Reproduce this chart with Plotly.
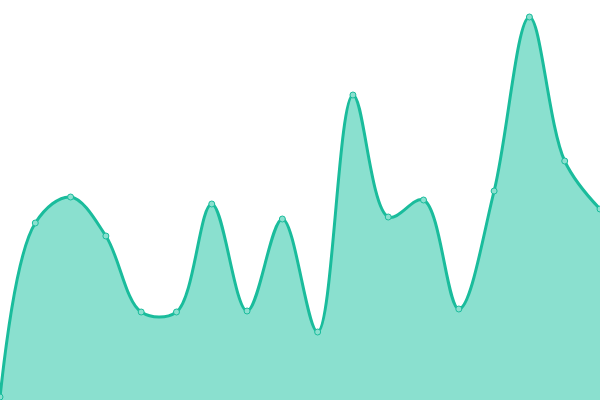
import plotly.graph_objects as go

# one point per step (0 = bottom edge, 400 = top)
steps = list(range(18))
values = [3, 177, 203, 164, 88, 88, 196, 89, 181, 68, 305, 183, 200, 91, 209, 383, 239, 191]

line_color = "#1abc9c"
fill_color = "#8ae0cf"

fig = go.Figure()
fig.add_trace(
    go.Scatter(
        x=steps,
        y=values,
        mode="lines+markers",
        line=dict(color=line_color, width=3, shape="spline", smoothing=1),
        fill="tozeroy",
        fillcolor=fill_color,
        marker=dict(size=6, color=fill_color, line=dict(color=line_color, width=1)),
        hoverinfo="skip",
    )
)

fig.update_layout(
    width=600,
    height=400,
    margin=dict(l=0, r=0, t=0, b=0),
    paper_bgcolor="white",
    plot_bgcolor="white",
    showlegend=False,
    xaxis=dict(range=[0, 17], visible=False, fixedrange=True),
    yaxis=dict(range=[0, 400], visible=False, fixedrange=True),
)

# the page has a default body margin; drop it so the chart fills the window
fig.write_html(
    "out.html",
    config={"displayModeBar": False},
    post_script="document.body.style.margin='0';document.body.style.overflow='hidden';",
)
